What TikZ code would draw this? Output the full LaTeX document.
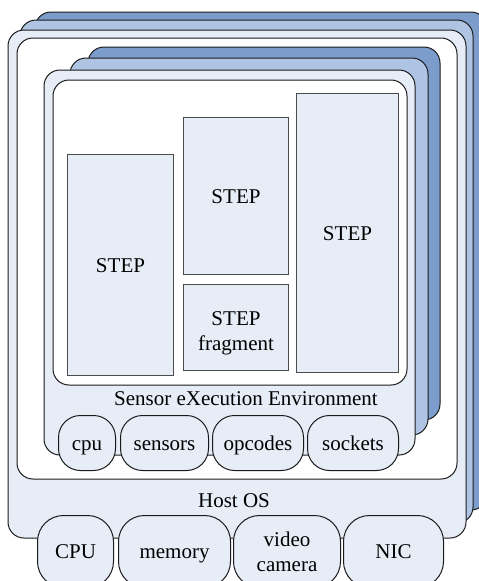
\documentclass[tikz,border=0pt]{standalone}
\usepackage{fontspec}
\setmainfont{Liberation Serif}
\definecolor{dk}{HTML}{7C9DCB}
\definecolor{md}{HTML}{AFC3E3}
\definecolor{lt}{HTML}{E6EDF7}
\definecolor{ln}{HTML}{1A1A1A}
\begin{document}
\begin{tikzpicture}[x=1pt,y=-1pt,
  font=\fontsize{21}{25}\selectfont,
  layer/.style={draw=ln, line width=1pt, rounded corners=16pt, anchor=north west, inner sep=0pt, outer sep=0pt},
  stepbox/.style={draw=black!70, line width=1pt, fill=lt, anchor=north west, inner sep=0pt, align=center},
  pill/.style={draw=ln, line width=1pt, fill=lt, anchor=north west, inner sep=0pt, align=center, rounded corners=22pt},
  hpill/.style={pill, rounded corners=26pt},
  lbl/.style={inner sep=0pt, text height=16pt, text depth=2pt, align=center},
  lbltwo/.style={inner sep=0pt, align=center}]
\useasboundingbox (0,0) rectangle (479,581);
\clip (0,0) rectangle (479,581);
% Host OS stack
\node[layer, fill=dk, minimum width=452pt, minimum height=498pt] (hdk) at (35,12) {};
\node[layer, fill=md, minimum width=453pt, minimum height=503pt] (hmd) at (20,20) {};
\node[layer, fill=lt, minimum width=458pt, minimum height=508pt] (hlt) at (8,30) {};
\node[layer, fill=white, minimum width=440pt, minimum height=441pt] (hwh) at (17,38) {};
% SXE stack
\node[layer, fill=dk, minimum width=352pt, minimum height=373pt] (sdk) at (88,47) {};
\node[layer, fill=md, minimum width=358pt, minimum height=377pt] (smd) at (70,58) {};
\node[layer, fill=lt, minimum width=371pt, minimum height=385pt] (slt) at (44,70) {};
\node[layer, fill=white, minimum width=354pt, minimum height=305pt] (swh) at (53,80) {};
% STEP boxes
\node[stepbox, minimum width=106pt, minimum height=221pt] (s1) at (67,154) {};
\node[lbl] (t1) at (s1.center) {STEP};
\node[stepbox, minimum width=105pt, minimum height=157pt] (s2) at (183,117) {};
\node[lbl] (t2) at (s2.center) {STEP};
\node[stepbox, minimum width=105pt, minimum height=86pt] (s3) at (183,284) {};
\node[lbltwo, yshift=-6pt] (t3) at (s3.center) {STEP\\fragment};
\node[stepbox, minimum width=102pt, minimum height=279pt] (s4) at (296,93) {};
\node[lbl] (t4) at (s4.center) {STEP};
% labels
\node[lbl] (sxe) at (246,398) {Sensor eXecution Environment};
\node[lbl] (host) at (234,500) {Host OS};
% SXE pills
\node[pill, minimum width=57pt, minimum height=55pt] (cpu) at (58,415) {};
\node[lbl] at (cpu.center) {cpu};
\node[pill, minimum width=88pt, minimum height=55pt] (sen) at (120,415) {};
\node[lbl] at (sen.center) {sensors};
\node[pill, minimum width=91pt, minimum height=55pt] (opc) at (212,415) {};
\node[lbl] at (opc.center) {opcodes};
\node[pill, minimum width=91pt, minimum height=55pt] (soc) at (307,415) {};
\node[lbl] at (soc.center) {sockets};
% Host pills
\node[hpill, minimum width=76pt, minimum height=72pt] (hcpu) at (37,515) {};
\node[lbl] at (hcpu.center) {CPU};
\node[hpill, minimum width=112pt, minimum height=72pt] (mem) at (118,515) {};
\node[lbl] at (mem.center) {memory};
\node[hpill, minimum width=107pt, minimum height=72pt] (vid) at (233,515) {};
\node[lbltwo] at (vid.center) {video\\camera};
\node[hpill, minimum width=100pt, minimum height=72pt] (nic) at (343,515) {};
\node[lbl] at (nic.center) {NIC};
\end{tikzpicture}
\end{document}
